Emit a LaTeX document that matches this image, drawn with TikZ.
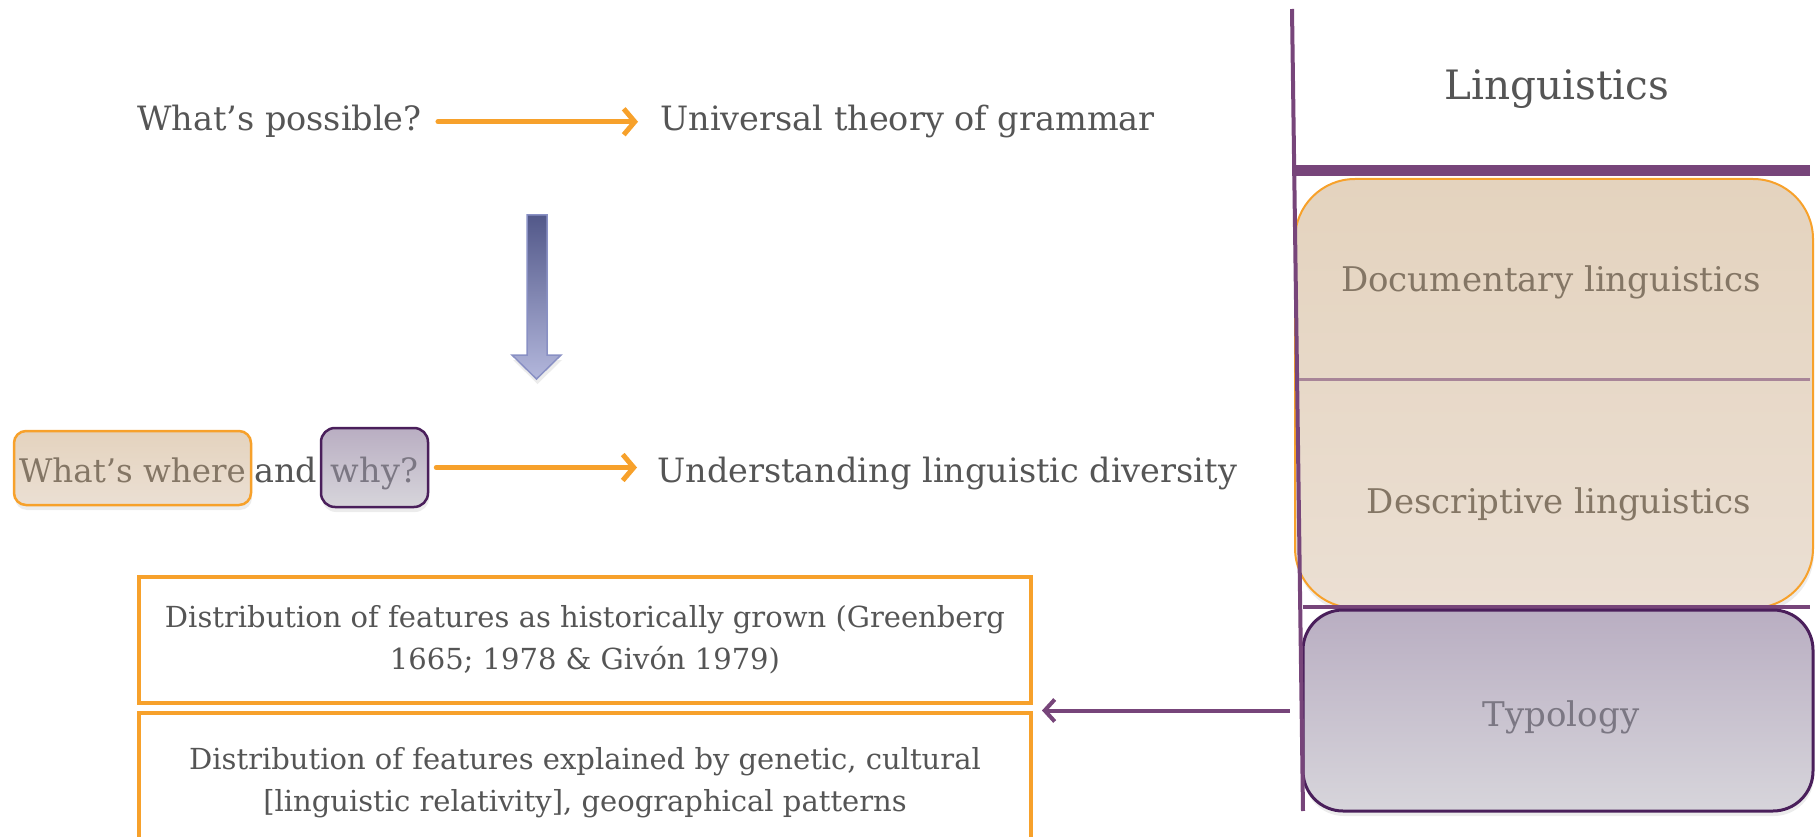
\documentclass[tikz,border=0pt]{standalone}
\usepackage{fontspec}
\setmainfont{DejaVu Serif}
\usetikzlibrary{arrows.meta,shadows}
\definecolor{txt}{HTML}{555555}
\definecolor{org}{HTML}{F7A12B}
\definecolor{pur}{HTML}{77457A}
\definecolor{dpur}{HTML}{4A1F5B}
\definecolor{beigeT}{HTML}{E4D3BE}
\definecolor{beigeB}{HTML}{EBDFD3}
\definecolor{lavT}{HTML}{B9AEC2}
\definecolor{lavB}{HTML}{D7D5DB}
\definecolor{btxt}{HTML}{847665}
\definecolor{ltxt}{HTML}{7B7783}
\definecolor{arT}{HTML}{525889}
\definecolor{arB}{HTML}{B3B7DC}
\definecolor{arE}{HTML}{8990C4}
\tikzset{
  big/.style={font=\fontsize{33.5}{40}\selectfont, text=txt, inner sep=0pt},
  oarrow/.style={draw=org, line width=5pt, line cap=round,
    -{Straight Barb[length=11pt,width=26pt,line width=5pt]}},
  parrow/.style={draw=pur, line width=4pt,
    -{Straight Barb[length=10pt,width=22pt,line width=4pt]}},
  shad/.style={drop shadow={opacity=0.15, shadow xshift=1pt, shadow yshift=-5pt}},
  beigebox/.style={draw=org, top color=beigeT, bottom color=beigeB, shad},
  lavbox/.style={draw=dpur, top color=lavT, bottom color=lavB, shad},
  tbox/.style={draw=org, line width=4.5pt, align=center, text=txt,
    font=\fontsize{29}{42}\selectfont},
  rtext/.style={font=\fontsize{34}{40}\selectfont, anchor=base},
}
\begin{document}
\begin{tikzpicture}[x=1pt,y=-1pt]
\useasboundingbox (0,0) rectangle (1816,837);

% top row
\node[big, anchor=base west] (poss) at (137,131) {What’s possible?};
\node[big, anchor=base west] (univ) at (660,131) {Universal theory of grammar};
\draw[oarrow] ([xshift=16pt]poss.east) -- ([xshift=-22pt]univ.west |- poss.east);

% down block arrow
\path[draw=arE, line width=1.5pt, top color=arT, bottom color=arB, shad]
  (527,215) -- (547,215) -- (547,355) -- (561,355) -- (536.5,379)
  -- (512,355) -- (527,355) -- cycle;

% second row
\node[beigebox, line width=2.5pt, rounded corners=12pt, minimum width=237pt,
  minimum height=74pt, inner sep=0pt] (where) at (132.5,468) {};
\node[big, font=\fontsize{32.5}{40}\selectfont, anchor=base, text=btxt] (wheret) at (132.5,482) {What’s where};
\node[big, anchor=base west] (and) at (254,482) {and};
\node[lavbox, line width=2.5pt, rounded corners=14pt, minimum width=107pt,
  minimum height=79pt, inner sep=0pt] (why) at (374.5,467.5) {};
\node[big, anchor=base, text=ltxt] (whyt) at (374.5,482) {why?};
\node[big, anchor=base west] (under) at (657,482) {Understanding linguistic diversity};
\draw[oarrow] ([xshift=7pt]why.east) -- ([xshift=-20pt]under.west |- why.east);

% bottom boxes
\node[tbox, minimum width=892pt, minimum height=126pt] (hist) at (585,640)
  {Distribution of features as historically grown (Greenberg\\1665; 1978 \& Givón 1979)};
\node[tbox, minimum width=892pt, minimum height=140pt] (expl) at (585,783)
  {Distribution of features explained by genetic, cultural\\{[linguistic relativity]}, geographical patterns};

% right column
\node[beigebox, line width=2pt, rounded corners=60pt, minimum width=518pt,
  minimum height=429pt] (desc) at (1554,393.5) {};
\draw[pur, line width=4pt] (1303,607) -- (1810,607);
\node[lavbox, line width=3pt, rounded corners=40pt, minimum width=510pt,
  minimum height=201pt] (typo) at (1558,710.5) {};
\draw[pur, line width=4pt] (1292,9) -- (1303,811);
\draw[pur, line width=11pt] (1292,171) -- (1810,171);
\draw[pur!55!beigeT, line width=3pt] (1299,379) -- (1810,379);

\node[rtext, font=\fontsize{40.5}{48}\selectfont, text=txt] (ling) at (1557,100) {Linguistics};
\node[rtext, text=btxt] (doc) at (1551,291) {Documentary linguistics};
\node[rtext, text=btxt] (descr) at (1559,513) {Descriptive linguistics};
\node[rtext, text=ltxt] (typ) at (1561,726) {Typology};

\coordinate (gap) at (1042,710.5);
\draw[parrow] ([xshift=-12pt]typo.west) -- (gap);
\end{tikzpicture}
\end{document}
